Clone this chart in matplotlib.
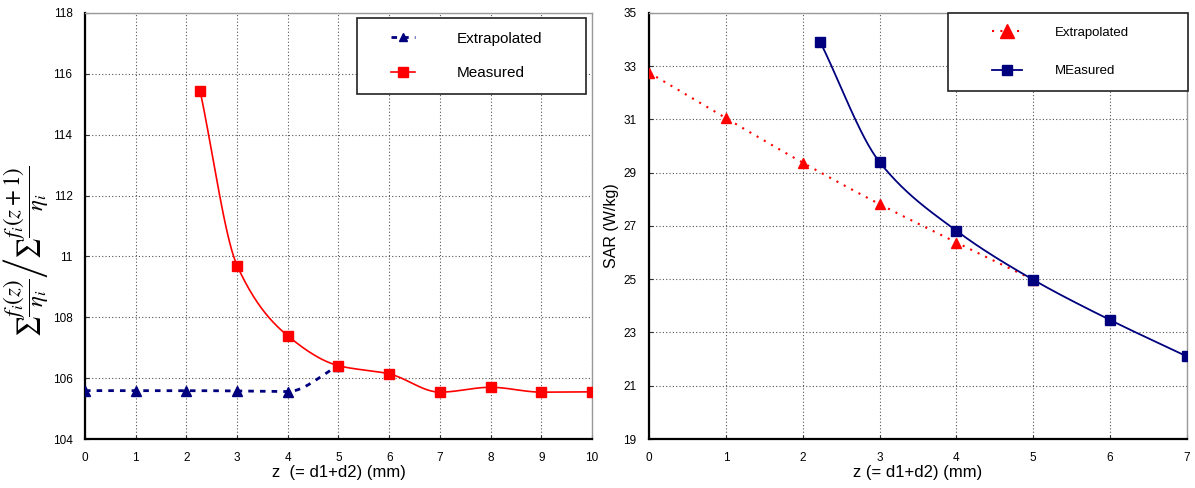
import numpy as np
import matplotlib
matplotlib.use('Agg')
import matplotlib.pyplot as plt
from matplotlib.lines import Line2D
from matplotlib.legend_handler import HandlerLine2D

#-------------- DATA

# left panel
z_ext_l  = [0, 1, 2, 3, 4, 5]
r_ext_l  = [105.59, 105.59, 105.59, 105.58, 105.56, 106.41]
z_mea_l  = [2.27, 3, 4, 5, 6, 7, 8, 9, 10]
r_mea_l  = [115.45, 109.70, 107.39, 106.41, 106.14, 105.54, 105.70, 105.54, 105.55]
yticks_l = [104, 106, 108, 110, 112, 114, 116, 118]
ylabs_l  = ['104', '106', '108', '11', '112', '114', '116', '118']

# right panel
z_ext_r  = [0, 1, 2, 3, 4, 5]
sar_ext  = [32.76, 31.05, 29.38, 27.82, 26.38, 24.98]
z_mea_r  = [2.23, 3, 4, 5, 6, 7]
sar_mea  = [33.90, 29.40, 26.82, 24.98, 23.47, 22.10]
yticks_r = [19, 21, 23, 25, 27, 29, 31, 33, 35]

#-------------- helpers

def smooth(x, y, n=200):
    # shape-preserving cubic (pchip) for drawing the curve through the points
    x = np.asarray(x, float); y = np.asarray(y, float)
    h = np.diff(x); d = np.diff(y) / h
    m = np.zeros_like(y)
    m[0], m[-1] = d[0], d[-1]
    for k in range(1, len(x) - 1):
        if d[k-1] * d[k] > 0:
            w1 = 2*h[k] + h[k-1]; w2 = h[k] + 2*h[k-1]
            m[k] = (w1 + w2) / (w1/d[k-1] + w2/d[k])
    xs = np.linspace(x[0], x[-1], n)
    i = np.clip(np.searchsorted(x, xs) - 1, 0, len(x) - 2)
    t = (xs - x[i]) / h[i]
    h00 = 2*t**3 - 3*t**2 + 1; h10 = t**3 - 2*t**2 + t
    h01 = -2*t**3 + 3*t**2;    h11 = t**3 - t**2
    ys = h00*y[i] + h10*h[i]*m[i] + h01*y[i+1] + h11*h[i]*m[i+1]
    return xs, ys

class ShortLine(HandlerLine2D):
    # draw the legend sample over only part of the handle box
    def __init__(self, a, b, **kw):
        super().__init__(**kw)
        self.a, self.b = a, b
    def create_artists(self, legend, orig_handle, xdescent, ydescent,
                       width, height, fontsize, trans):
        return super().create_artists(legend, orig_handle,
                                      xdescent - self.a*width, ydescent,
                                      (self.b - self.a)*width, height,
                                      fontsize, trans)

def style(ax):
    ax.grid(True, linestyle=(0, (1, 2)), color='#555555', linewidth=0.8)
    ax.tick_params(direction='in', length=3, labelsize=8.5, pad=9, color='#333333')
    for s in ['left', 'bottom']:
        ax.spines[s].set_linewidth(1.6)
    for s in ['top', 'right']:
        ax.spines[s].set_color('#999999')
        ax.spines[s].set_linewidth(1.0)

#-------------- SET UP

plt.rcParams['font.family'] = ['Liberation Sans', 'DejaVu Sans']
plt.rcParams['mathtext.fontset'] = 'stix'
fig = plt.figure(figsize=(11.95, 4.88), dpi=100)
ax1 = fig.add_axes([0.0711, 0.1004, 0.4243, 0.8730])
ax2 = fig.add_axes([0.5431, 0.1004, 0.4502, 0.8730])

navy = '#00007f'
red  = '#ff0000'

#-------------- LEFT PANEL

xs, ys = smooth(z_ext_l, r_ext_l)
ax1.plot(xs, ys, color=navy, linewidth=2, linestyle=(0, (2, 2.2)), zorder=3)
ax1.plot(z_ext_l, r_ext_l, '^', color=navy, markersize=7, zorder=4)
xs, ys = smooth(z_mea_l, r_mea_l)
ax1.plot(xs, ys, color=red, linewidth=1.2, zorder=5)
ax1.plot(z_mea_l, r_mea_l, 's', color=red, markersize=6.5, zorder=6)

ax1.set_xlim(0, 10)
ax1.set_ylim(104, 118)
ax1.set_xticks(range(11))
ax1.set_yticks(yticks_l)
ax1.set_yticklabels(ylabs_l)
style(ax1)
ax1.set_xlabel('z  (= d1+d2) (mm)', fontsize=12, labelpad=1)
ax1.set_ylabel(r'$\sum\dfrac{f_i(z)}{\eta_i}\left/\sum\dfrac{f_i(z+1)}{\eta_i}\right.$',
               fontsize=16.5)
ax1.yaxis.set_label_coords(-0.068, 0.44)

h1 = [Line2D([], [], color=navy, linewidth=2, linestyle=(0, (2, 2.2)),
             marker='^', markersize=6),
      Line2D([], [], color=red, linewidth=1.2, marker='s', markersize=6.5)]
leg = ax1.legend(h1, ['Extrapolated', 'Measured'], loc='upper left', mode='expand',
                 bbox_to_anchor=(0.5365, 0.0, 0.4517, 0.988), fontsize=11,
                 handlelength=3.92, handletextpad=1.71, borderpad=0.9,
                 labelspacing=1.35, borderaxespad=0, fancybox=False,
                 framealpha=1, edgecolor='#222222',
                 handler_map={Line2D: ShortLine(0.337, 0.737)})
leg.get_frame().set_linewidth(1.2)

#-------------- RIGHT PANEL

xs, ys = smooth(z_ext_r, sar_ext)
ax2.plot(xs, ys, color=red, linewidth=1.5, linestyle=(0, (1, 3)), zorder=3)
ax2.plot(z_ext_r, sar_ext, '^', color=red, markersize=7, zorder=4)
xs, ys = smooth(z_mea_r, sar_mea)
ax2.plot(xs, ys, color=navy, linewidth=1.3, zorder=5)
ax2.plot(z_mea_r, sar_mea, 's', color=navy, markersize=6.5, zorder=6)

ax2.set_xlim(0, 7)
ax2.set_ylim(19, 35)
ax2.set_xticks(range(8))
ax2.set_yticks(yticks_r)
style(ax2)
ax2.set_xlabel('z (= d1+d2) (mm)', fontsize=12, labelpad=1)
ax2.set_ylabel('SAR (W/kg)', fontsize=11.5, labelpad=3)

h2 = [Line2D([], [], color=red, linewidth=1.5, linestyle=(0, (1, 3)),
             marker='^', markersize=9.5),
      Line2D([], [], color=navy, linewidth=1.3, marker='s', markersize=6.8)]
leg = ax2.legend(h2, ['Extrapolated', 'MEasured'], loc='upper left', mode='expand',
                 bbox_to_anchor=(0.5558, 0.0, 0.446, 1.0), fontsize=9.5,
                 handlelength=5.3, handletextpad=1.74, borderpad=1.05,
                 labelspacing=1.98, borderaxespad=0, fancybox=False,
                 framealpha=1, edgecolor='#222222',
                 handler_map={Line2D: ShortLine(0.43, 0.857)})
leg.get_frame().set_linewidth(1.2)

plt.savefig('out.png', dpi=100)
